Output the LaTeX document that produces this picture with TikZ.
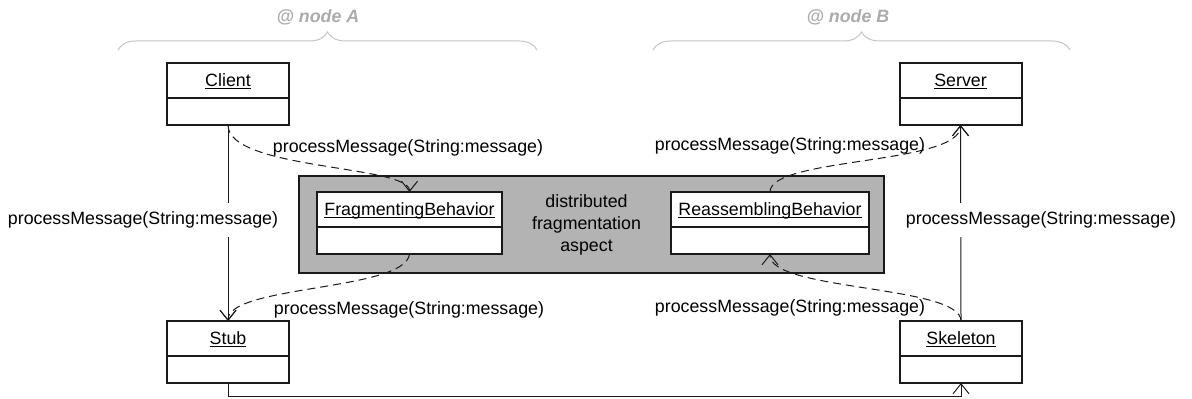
\documentclass[tikz,border=0pt]{standalone}
\usepackage{fontspec}
\setmainfont{Liberation Sans}
\usetikzlibrary{arrows.meta, calc, shapes.multipart, decorations.pathreplacing}
\definecolor{umlline}{HTML}{1A1A1A}
\definecolor{aspectgray}{HTML}{B3B3B3}
\definecolor{bracegray}{HTML}{C4C4C4}
\definecolor{hostgray}{HTML}{ABABAB}
\newcommand{\objname}[1]{\rule[-5pt]{0pt}{16.5pt}\setbox0\hbox{#1}\rlap{\rule[-1.25pt]{\wd0}{0.5pt}}\box0}

\begin{document}
\begin{tikzpicture}[x=0.5pt, y=-0.5pt,
  obj/.style={draw=umlline, line width=1pt, fill=white, rectangle split, rectangle split parts=2, anchor=north, outer sep=0pt, inner xsep=0pt, inner ysep=0pt, align=center, rectangle split empty part height=12.5pt, rectangle split empty part depth=0pt, font=\fontsize{8.9}{11}\selectfont},
  aspectbox/.style={draw=umlline, line width=1pt, fill=aspectgray, minimum width=292.5pt, minimum height=48.5pt, inner sep=0pt},
  msg/.style={font=\fontsize{8.9}{11}\selectfont, inner sep=1pt},
  link/.style={draw=umlline, line width=0.5pt, -{Straight Barb[length=5pt,width=8pt]}},
  call/.style={link, dash pattern=on 4pt off 2.5pt},
  hostbrace/.style={draw=bracegray, line width=0.5pt, decorate, decoration={brace, amplitude=9pt}},
  host/.style={font=\fontsize{8.9}{11}\selectfont\bfseries\itshape, text=hostgray, inner sep=0pt}
]
\useasboundingbox (0,0) rectangle (1192,399);

% hosts
\draw[hostbrace] (118,50) -- (537,50);
\draw[hostbrace] (653,50) -- (1070,50);
\node[host] (hostA) at (318,17) {@ node A};
\node[host] (hostB) at (848,17) {@ node B};

% aspect
\node[aspectbox] (aspect) at (591.5,224.5) {};
\node[msg, align=center] (aspectname) at (586.5,224.5) {distributed\\fragmentation\\aspect};

% objects
\node[obj, text width=61pt] (client) at (228,63) {\objname{Client}};
\node[obj, text width=61pt] (server) at (960.5,63) {\objname{Server}};
\node[obj, text width=61pt] (stub) at (228,321) {\objname{Stub}};
\node[obj, text width=61pt] (skel) at (961,321) {\objname{Skeleton}};
\node[obj, text width=92.5pt] (frag) at (409.5,192) {\objname{FragmentingBehavior}};
\node[obj, text width=99pt] (reass) at (770,192) {\objname{ReassemblingBehavior}};

% calls
\draw[link] (client.south) -- (stub.north);
\draw[link] (skel.north) -- (server.south);
\draw[link] (stub.south) -- ++(0,14) -| (skel.south);
\draw[call] (client.south) .. controls ($(client.south)+(0,45)$) and ($(frag.north)+(0,-27)$) .. (frag.north);
\draw[call] (frag.south) .. controls ($(frag.south)+(-4,37)$) and ($(stub.north)+(0,-36)$) .. (stub.north);
\draw[call] (skel.north) .. controls ($(skel.north)+(0,-36)$) and ($(reass.south)+(0,37)$) .. (reass.south);
\draw[call] (reass.north) .. controls ($(reass.north)+(0,-35)$) and ($(server.south)+(0,40)$) .. (server.south);

\node[msg] (m1) at (408,148) {processMessage(String:message)};
\node[msg] (m2) at (409,310) {processMessage(String:message)};
\node[msg] (m3) at (790,146) {processMessage(String:message)};
\node[msg] (m4) at (790,307.5) {processMessage(String:message)};
\node[msg, fill=white, inner ysep=4.5pt] (m5) at (143,220) {processMessage(String:message)};
\node[msg, fill=white, inner ysep=4.5pt] (m6) at (1041,220) {processMessage(String:message)};
\end{tikzpicture}
\end{document}
